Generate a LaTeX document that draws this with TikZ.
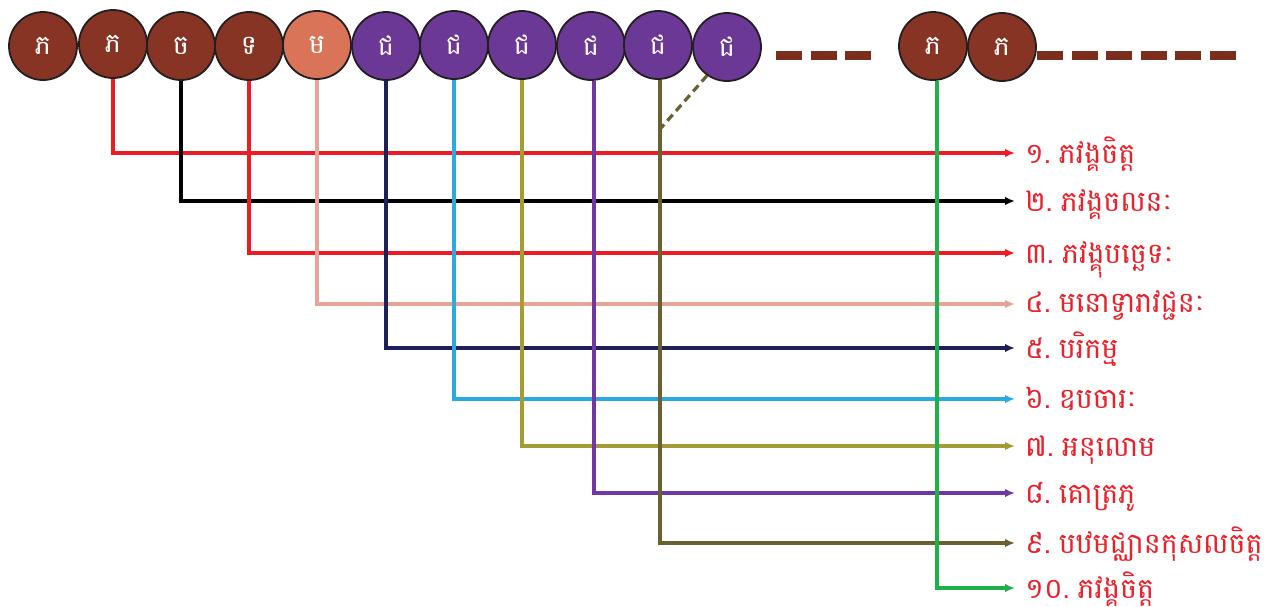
\documentclass[tikz,border=0pt]{standalone}
\usepackage{fontspec}
\newfontfamily\khmer[Script=Khmer]{Battambang}
\usetikzlibrary{arrows.meta}
\definecolor{cbrown}{HTML}{873424}
\definecolor{csalmon}{HTML}{D97459}
\definecolor{cpurple}{HTML}{6C3895}
\definecolor{cborder}{HTML}{231F20}
\definecolor{cbar}{HTML}{7B2E1E}
\definecolor{lred}{HTML}{ED1C24}
\definecolor{lpink}{HTML}{E8A596}
\definecolor{lnavy}{HTML}{1E2157}
\definecolor{lcyan}{HTML}{29ABE2}
\definecolor{lolive}{HTML}{A39B35}
\definecolor{lpurple}{HTML}{7038A0}
\definecolor{ldolive}{HTML}{6B6130}
\definecolor{lgreen}{HTML}{1DB04B}
\definecolor{tred}{HTML}{E8212B}
\tikzset{
  ball/.style={circle, draw=cborder, line width=1.8pt, minimum size=68pt, inner sep=0pt, text=white, font=\khmer\fontsize{27}{27}\selectfont},
  conn/.style={line width=3.2pt, -{Latex[length=10pt,width=8.5pt]}},
  lbl/.style={anchor=base west, text=tred, inner sep=0pt, font=\khmer\fontsize{28.5}{28.5}\selectfont},
  dashbar/.style={cbar, line width=9pt, dash pattern=on 26pt off 8.5pt},
  dashlink/.style={ldolive, line width=3.2pt, dash pattern=on 8pt off 5pt}
}
\newcommand{\nsp}{\hspace{8pt}}
\begin{document}
\begin{tikzpicture}[x=1pt,y=-1pt]
\useasboundingbox (0,0) rectangle (1267,606);
% circles
\node[ball, fill=cbrown] (c1) at (43,46) {ភ};
\node[ball, fill=cbrown] (c2) at (113,44) {ភ};
\node[ball, fill=cbrown] (c3) at (181,46) {ច};
\node[ball, fill=cbrown] (c4) at (249,46) {ទ};
\node[ball, fill=csalmon] (c5) at (317,45) {ម};
\node[ball, fill=cpurple] (c6) at (386,46) {ជ};
\node[ball, fill=cpurple] (c7) at (454,45) {ជ};
\node[ball, fill=cpurple] (c8) at (522,45) {ជ};
\node[ball, fill=cpurple] (c9) at (591,46) {ជ};
\node[ball, fill=cpurple] (c10) at (658,45) {ជ};
\node[ball, fill=cpurple] (c11) at (727,47) {ជ};
\node[ball, fill=cbrown] (c12) at (933,46) {ភ};
\node[ball, fill=cbrown] (c13) at (1002,47) {ភ};
% dashed bars
\coordinate (b1s) at (776,55);
\coordinate (b1e) at (875,55);
\coordinate (b2s) at (1037,55);
\coordinate (b2e) at (1240,55);
\draw[dashbar] (b1s) -- (b1e);
\draw[dashbar] (b2s) -- (b2e);
% arrow ends
\coordinate (a1) at (1015,153);
\coordinate (a2) at (1015,201);
\coordinate (a3) at (1015,253);
\coordinate (a4) at (1015,304);
\coordinate (a5) at (1015,348);
\coordinate (a6) at (1015,399);
\coordinate (a7) at (1015,446);
\coordinate (a8) at (1015,493);
\coordinate (a9) at (1015,543);
\coordinate (a10) at (1015,588);
% labels
\node[lbl] (l1) at (1025,163) {១.\nsp ភវង្គចិត្ត};
\node[lbl] (l2) at (1025,211) {២.\nsp ភវង្គចលនៈ};
\node[lbl] (l3) at (1025,263) {៣.\nsp ភវង្គុបច្ឆេទៈ};
\node[lbl] (l4) at (1025,312) {៤.\nsp មនោទ្វារាវជ្ជនៈ};
\node[lbl] (l5) at (1025,358) {៥.\nsp បរិកម្ម};
\node[lbl] (l6) at (1025,408) {៦.\nsp ឧបចារៈ};
\node[lbl] (l7) at (1025,456) {៧.\nsp អនុលោម};
\node[lbl] (l8) at (1025,503) {៨.\nsp គោត្រភូ};
\node[lbl] (l9) at (1025,553) {៩.\nsp បឋមជ្ឈានកុសលចិត្ត};
\node[lbl] (l10) at (1025,598) {១០.\nsp ភវង្គចិត្ត};
% connectors
\draw[conn, lred] (c2.south) |- (a1);
\draw[conn, black] (c3.south) |- (a2);
\draw[conn, lred] (c4.south) |- (a3);
\draw[conn, lpink] (c5.south) |- (a4);
\draw[conn, lnavy] (c6.south) |- (a5);
\draw[conn, lcyan] (c7.south) |- (a6);
\draw[conn, lolive] (c8.south) |- (a7);
\draw[conn, lpurple] ([xshift=3pt]c9.south) |- (a8);
\draw[conn, ldolive] ([xshift=2pt]c10.south) |- (a9);
\draw[conn, lgreen] ([xshift=4pt]c12.south) |- (a10);
\coordinate (k) at (661,128);
\draw[dashlink] (c11.235) -- (k);
\end{tikzpicture}
\end{document}
